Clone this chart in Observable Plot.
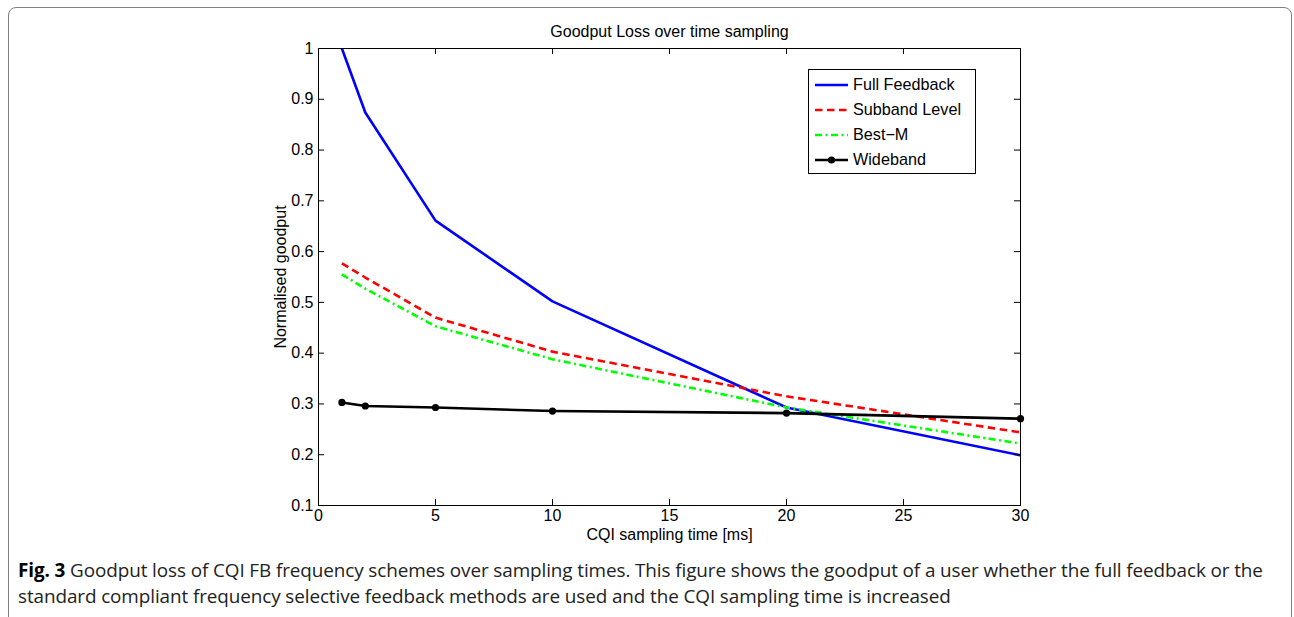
<!DOCTYPE html>
<html>
<head>
<meta charset="utf-8">
<script src="https://cdn.jsdelivr.net/npm/d3@7"></script>
<script src="https://cdn.jsdelivr.net/npm/@observablehq/plot@0.6"></script>
<style>
  html, body { margin: 0; padding: 0; background: #fff; width: 1294px; height: 617px; overflow: hidden; }
  #frame { position: absolute; left: 8px; top: 7px; width: 1284px; height: 700px; border: 1.5px solid #808080; border-radius: 8px; box-sizing: border-box; }
  #chart { position: absolute; left: 0; top: 0; }
  #legend { position: absolute; left: 808px; top: 69px; width: 168px; height: 105px; border: 1px solid #000; box-sizing: border-box; background: #fff; font-family: "Liberation Sans", Arial, sans-serif; font-size: 16.2px; }
  .row { position: absolute; left: 6px; height: 20px; }
  .row svg { position: absolute; left: 0; top: 0; }
  .row span { position: absolute; left: 38px; top: 0px; white-space: nowrap; color: #000; }
  #caption { position: absolute; left: 18px; top: 557px; font-family: "Open Sans", "Noto Sans", sans-serif; font-size: 18.9px; line-height: 26px; color: #222; white-space: nowrap; letter-spacing: -0.1px; }
  #caption b { color: #000; }
</style>
</head>
<body>
<div id="frame"></div>
<div id="chart"></div>
<div id="legend"></div>
<div id="caption"><b>Fig. 3</b> Goodput loss of CQI FB frequency schemes over sampling times. This figure shows the goodput of a user whether the full feedback or the<br>standard compliant frequency selective feedback methods are used and the CQI sampling time is increased</div>
<script>
const samplingTimes = [1, 2, 5, 10, 20, 30];
const fullFeedback = [1.0, 0.874, 0.661, 0.502, 0.293, 0.199];
const subbandLevel = [0.577, 0.549, 0.470, 0.403, 0.315, 0.244];
const bestM = [0.555, 0.527, 0.453, 0.388, 0.293, 0.222];
const wideband = [0.303, 0.296, 0.293, 0.286, 0.282, 0.271];
const seriesNames = ["Full Feedback", "Subband Level", "Best\u2212M", "Wideband"];
const xTicks = [0, 5, 10, 15, 20, 25, 30];
const yTicks = [0.1, 0.2, 0.3, 0.4, 0.5, 0.6, 0.7, 0.8, 0.9, 1];
const titleText = "Goodput Loss over time sampling";
const xLabel = "CQI sampling time [ms]";
const yLabel = "Normalised goodput";

const seriesValues = [fullFeedback, subbandLevel, bestM, wideband];
const styles = [
  {stroke: "#0000ff", dash: null},
  {stroke: "#ff0000", dash: "7.5,4.5"},
  {stroke: "#00ff00", dash: "7,3.5,2,3.5"},
  {stroke: "#000000", dash: null}
];
const rows = [];
seriesNames.forEach((name, i) => {
  samplingTimes.forEach((t, j) => rows.push({series: name, t, v: seriesValues[i][j]}));
});
const byName = name => rows.filter(d => d.series === name);

const W = 1294, H = 560;
const mL = 318, mR = 274, mT = 48, mB = 55;
const innerW = W - mL - mR, innerH = H - mT - mB;
const font = "Liberation Sans, Arial, sans-serif";
const tick = 6;
const fs = 16;

const marks = [];
seriesNames.forEach((name, i) => {
  marks.push(Plot.line(byName(name), {
    x: "t", y: "v", stroke: styles[i].stroke, strokeWidth: 2.6,
    strokeDasharray: styles[i].dash, strokeLinejoin: "round", strokeLinecap: "butt"
  }));
});
marks.push(Plot.dot(byName(seriesNames[3]), {x: "t", y: "v", r: 3.6, fill: "#000", stroke: "none"}));
marks.push(Plot.frame({stroke: "#000", strokeWidth: 1}));
marks.push(Plot.ruleX(xTicks, {x: d => d, insetTop: innerH - tick, stroke: "#000", strokeWidth: 1}));
marks.push(Plot.ruleX(xTicks, {x: d => d, insetBottom: innerH - tick, stroke: "#000", strokeWidth: 1}));
marks.push(Plot.ruleY(yTicks, {y: d => d, insetRight: innerW - tick, stroke: "#000", strokeWidth: 1}));
marks.push(Plot.ruleY(yTicks, {y: d => d, insetLeft: innerW - tick, stroke: "#000", strokeWidth: 1}));
marks.push(Plot.axisX(xTicks, {tickSize: 0, tickPadding: 4.5, tickFormat: d => String(d), fontSize: fs, label: null}));
marks.push(Plot.axisY(yTicks, {tickSize: 0, tickPadding: 5, tickFormat: d => String(d), fontSize: fs, label: null}));
marks.push(Plot.text([titleText], {frameAnchor: "top", lineAnchor: "middle", dy: -17, fontSize: fs, fill: "#000"}));
marks.push(Plot.text([xLabel], {frameAnchor: "bottom", dy: 34, fontSize: fs, fill: "#000"}));
marks.push(Plot.text([yLabel], {frameAnchor: "left", dx: -38, rotate: -90, textAnchor: "middle", fontSize: fs, fill: "#000"}));

const chart = Plot.plot({
  width: W, height: H,
  marginLeft: mL, marginRight: mR, marginTop: mT, marginBottom: mB,
  x: {domain: [0, 30]},
  y: {domain: [0.1, 1]},
  style: {fontFamily: font, fontSize: fs + "px", color: "#000", background: "transparent"},
  marks
});
document.getElementById("chart").appendChild(chart);

// legend
const legend = d3.select("#legend");
seriesNames.forEach((name, i) => {
  const row = legend.append("div").attr("class", "row").style("top", (5 + i * 25) + "px");
  const svg = row.append("svg").attr("width", 36).attr("height", 20);
  svg.append("line").attr("x1", 0).attr("x2", 33).attr("y1", 10).attr("y2", 10)
    .attr("stroke", styles[i].stroke).attr("stroke-width", 2.6)
    .attr("stroke-dasharray", styles[i].dash);
  if (i === 3) svg.append("circle").attr("cx", 16.5).attr("cy", 10).attr("r", 3.6).attr("fill", "#000");
  row.append("span").text(name);
});
</script>
</body>
</html>
